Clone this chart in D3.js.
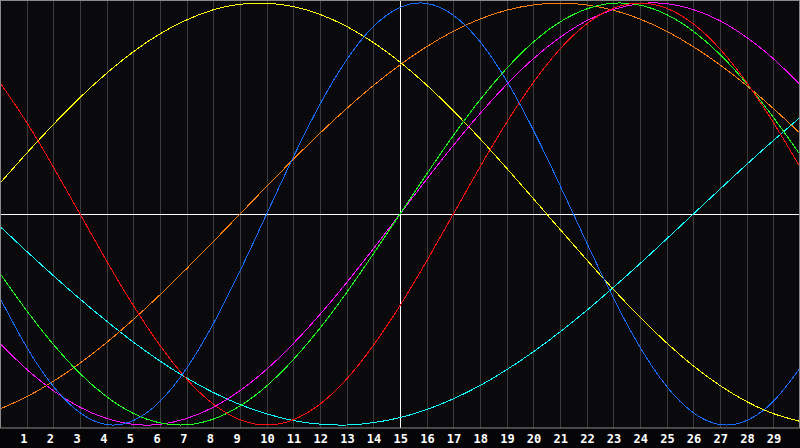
<!DOCTYPE html>
<html><head><meta charset="utf-8">
<script src="https://cdn.jsdelivr.net/npm/d3@7"></script>
<style>
html,body{margin:0;padding:0;background:#050507;}
svg{display:block;}
</style></head>
<body>
<svg id="chart" width="800" height="448"></svg>
<script>
const days = d3.range(0, 31);
const tickLabels = d3.range(1, 30);
const seriesNames = ["physical","emotional","intellectual","intuitive","aesthetic","awareness","spiritual"];
const physical     = [-39.8,-63.1,-81.7,-94.2,-99.8,-97.9,-88.8,-73.1,-52.0,-27.0,0,27.0,52.0,73.1,88.8,97.9,99.8,94.2,81.7,63.1,39.8,13.6,-13.6,-39.8,-63.1,-81.7,-94.2,-99.8,-97.9,-88.8,-73.1];
const emotional    = [62.3,43.4,22.3,0,-22.3,-43.4,-62.3,-78.2,-90.1,-97.5,-100,-97.5,-90.1,-78.2,-62.3,-43.4,-22.3,0,22.3,43.4,62.3,78.2,90.1,97.5,100,97.5,90.1,78.2,62.3,43.4,22.3];
const intellectual = [-28.2,-45.8,-61.8,-75.6,-86.6,-94.5,-99.0,-99.9,-97.2,-91.0,-81.5,-69.0,-54.1,-37.2,-18.9,0,18.9,37.2,54.1,69.0,81.5,91.0,97.2,99.9,99.0,94.5,86.6,75.6,61.8,45.8,28.2];
const intuitive    = [-61.4,-73.6,-83.7,-91.6,-96.9,-99.7,-99.7,-96.9,-91.6,-83.7,-73.6,-61.4,-47.6,-32.5,-16.5,0,16.5,32.5,47.6,61.4,73.6,83.7,91.6,96.9,99.7,99.7,96.9,91.6,83.7,73.6,61.4];
const aesthetic    = [14.6,28.8,42.4,55.2,66.7,76.9,85.4,92.0,96.8,99.4,99.9,98.3,94.6,88.9,81.3,72.0,61.1,48.9,35.7,21.7,7.3,-7.3,-21.7,-35.7,-48.9,-61.1,-72.0,-81.3,-88.9,-94.6,-98.3];
const awareness    = [-92.4,-86.6,-79.3,-70.7,-60.9,-50.0,-38.3,-25.9,-13.1,0,13.1,25.9,38.3,50.0,60.9,70.7,79.3,86.6,92.4,96.6,99.1,100,99.1,96.6,92.4,86.6,79.3,70.7,60.9,50.0,38.3];
const spiritual    = [-5.9,-17.7,-29.2,-40.3,-50.8,-60.7,-69.7,-77.7,-84.6,-90.3,-94.7,-97.9,-99.6,-100,-98.9,-96.5,-92.7,-87.6,-81.3,-73.8,-65.3,-55.9,-45.7,-34.8,-23.5,-11.8,0,11.8,23.5,34.8,45.7];
const seriesColors = ["#1a6cff","#ff1010","#20ff20","#ff10ff","#ffff10","#ff8010","#10ffff"];
const seriesValues = [physical, emotional, intellectual, intuitive, aesthetic, awareness, spiritual];
const drawOrder = [6,5,4,3,2,1,0];

const svg = d3.select("#chart");
const W = 800, plotH = 428;
const x = d3.scaleLinear().domain([0, 30]).range([0, 800]);
const y = d3.scaleLinear().domain([-100, 100]).range([425, 3]);

svg.append("rect").attr("x",0).attr("y",0).attr("width",W).attr("height",448).attr("fill","#050507");
svg.append("rect").attr("x",0).attr("y",0).attr("width",W).attr("height",plotH).attr("fill","#0a0a0d");

// vertical grid lines
svg.append("g").selectAll("line").data(tickLabels).join("line")
  .attr("x1", d => Math.round(x(d)) + 0.5).attr("x2", d => Math.round(x(d)) + 0.5)
  .attr("y1", 0).attr("y2", plotH)
  .attr("stroke", d => d === 15 ? "#ffffff" : "#3c3c3c")
  .attr("stroke-width", 1);

// centre line
svg.append("line").attr("x1",0).attr("x2",W)
  .attr("y1", Math.round(y(0)) + 0.5).attr("y2", Math.round(y(0)) + 0.5)
  .attr("stroke","#ffffff").attr("stroke-width",1);

svg.append("line").attr("x1", Math.round(x(15)) + 0.5).attr("x2", Math.round(x(15)) + 0.5)
  .attr("y1",0).attr("y2",plotH).attr("stroke","#ffffff");

const line = d3.line().x((d,i) => x(days[i])).y(d => y(d)).curve(d3.curveNatural);
const g = svg.append("g").attr("shape-rendering","crispEdges");
drawOrder.forEach(k => {
  g.append("path").attr("d", line(seriesValues[k]))
    .attr("fill","none").attr("stroke", seriesColors[k]).attr("stroke-width",1);
});

// border
svg.append("rect").attr("x",0.5).attr("y",0.5).attr("width",W-1).attr("height",plotH-0.5)
  .attr("fill","none").attr("stroke","#8a8a8a").attr("stroke-width",1);

// axis labels
const axis = d3.axisBottom(x).tickValues(tickLabels).tickSize(0).tickPadding(0).tickFormat(d3.format("d"));
const ag = svg.append("g").attr("transform", `translate(0,${plotH})`).call(axis);
ag.select(".domain").remove();
ag.selectAll("text")
  .attr("fill","#ffffff").attr("text-anchor","start").attr("x",-7).attr("y",15).attr("dy",null)
  .style("font-family","'DejaVu Sans Mono', monospace").style("font-weight","bold").style("font-size","12px");
</script>
</body></html>
